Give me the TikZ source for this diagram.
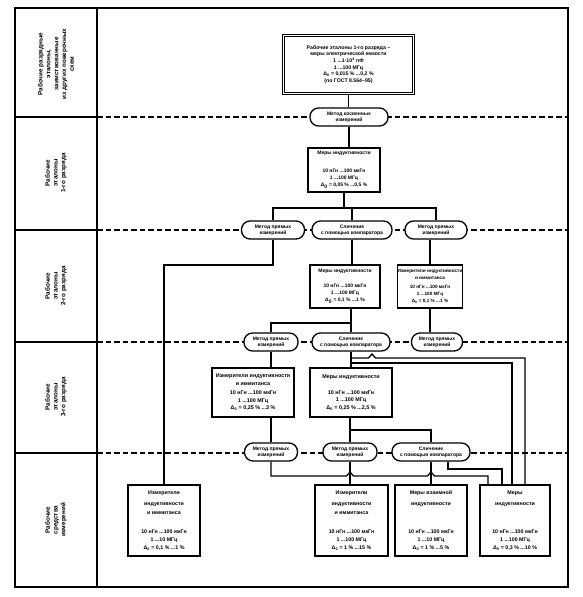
\documentclass[tikz,border=0pt]{standalone}
\usepackage{fontspec}
\setmainfont{Liberation Sans}
\usetikzlibrary{calc}
\begin{document}
\begin{tikzpicture}[x=1pt,y=-1pt,
 con/.style={line width=1.3pt},
 frame/.style={line width=1.4pt},
 dashsep/.style={line width=1.2pt, dash pattern=on 5.5pt off 3pt},
 box/.style={draw, line width=1.3pt, fill=white, align=center, inner sep=0pt, font=\fontsize{5}{7}\selectfont\bfseries},
 oval/.style={draw, line width=1.3pt, fill=white, align=center, inner sep=0pt, rounded corners=8.5pt, minimum height=18pt, font=\fontsize{5}{6.3}\selectfont\bfseries},
 lab/.style={rotate=90, align=center, font=\fontsize{6.3}{7.8}\selectfont\bfseries}
]
\useasboundingbox (0,0) rectangle (583,597);
% frame and left column
\draw[frame] (15,8) rectangle (568,587);
\draw[frame] (97,8) -- (97,587);
\foreach \yy in {117,230,342,453}{
  \draw[frame] (15,\yy) -- (97,\yy);
  \draw[dashsep] (97,\yy) -- (568,\yy);
}
\node[lab] (L1) at (56,64) {Рабочие разрядные\\эталоны,\\заимствованные\\из других поверочных\\схем};
\node[lab] (L2) at (56,173) {Рабочие\\эталоны\\1-го разряда};
\node[lab] (L3) at (56,286) {Рабочие\\эталоны\\2-го разряда};
\node[lab] (L4) at (56,397) {Рабочие\\эталоны\\3-го разряда};
\node[lab] (L5) at (56,520) {Рабочие\\средства\\измерений};

% top box
\node[box, double, double distance=1pt, line width=1.2pt, minimum width=130, minimum height=58, font=\fontsize{5.2}{6.6}\selectfont\bfseries] (T) at (348.5,64.5)
 {Рабочие эталоны 1-го разряда --\\меры электрической емкости\\1 ...1·10\textsuperscript{4} пФ\\1 ...100 МГц\\Δ\textsubscript{0} = 0,015 \% ...0,2 \%\\(по ГОСТ 8.564--95)};
\node[oval, minimum width=78] (M0) at (349,117) {Метод косвенных\\измерений};
\node[box, minimum width=72, minimum height=44] (B1) at (344,170)
 {Меры индуктивности\\[11pt]10 нГн ...100 мкГн\\1 ...100 МГц\\Δ\textsubscript{0} = 0,05 \% ...0,5 \%};

% row 2/3 ovals
\node[oval, minimum width=63] (O1) at (273,230) {Метод прямых\\измерений};
\node[oval, minimum width=80] (O2) at (352,230) {Сличение\\с помощью компаратора};
\node[oval, minimum width=62] (O3) at (436,230) {Метод прямых\\измерений};

% row 3 boxes
\node[box, minimum width=70, minimum height=43] (B2a) at (345,286.5)
 {Меры индуктивности\\[8pt]10 нГн ...100 мкГн\\1 ...100 МГц\\Δ\textsubscript{0} = 0,1 \% ...1 \%};
\node[box, minimum width=64, minimum height=43, font=\fontsize{4.7}{7}\selectfont\bfseries] (B2b) at (430,286.5)
 {Измерители индуктивности\\и иммитанса\\[2pt]10 нГн ...100 мкГн\\1 ...100 МГц\\Δ\textsubscript{0} = 0,1 \% ...1 \%};

% row 3/4 ovals
\node[oval, minimum width=54] (O4) at (271,342) {Метод прямых\\измерений};
\node[oval, minimum width=78] (O5) at (351,342) {Сличение\\с помощью компаратора};
\node[oval, minimum width=51] (O6) at (437,342) {Метод прямых\\измерений};

% row 4 boxes
\node[box, minimum width=82, minimum height=49, font=\fontsize{5.4}{7.5}\selectfont\bfseries] (B3a) at (253,392.5)
 {Измерители индуктивности\\и иммитанса\\[2pt]10 нГн ...100 мкГн\\1 ...100 МГц\\Δ\textsubscript{0} = 0,25 \% ...3 \%};
\node[box, minimum width=82, minimum height=49, font=\fontsize{5.4}{7.5}\selectfont\bfseries] (B3b) at (351,392.5)
 {Меры индуктивности\\[8pt]10 нГн ...100 мкГн\\1 ...100 МГц\\Δ\textsubscript{0} = 0,25 \% ...2,5 \%};

% row 4/5 ovals
\node[oval, minimum width=53] (O7) at (271,452) {Метод прямых\\измерений};
\node[oval, minimum width=54] (O8) at (350,452) {Метод прямых\\измерений};
\node[oval, minimum width=78] (O9) at (431,452) {Сличение\\с помощью компаратора};

% bottom boxes
\tikzset{bbox/.style={box, minimum width=72, minimum height=71, font=\fontsize{5.3}{8}\selectfont\bfseries}}
\node[bbox] (P0) at (164,520.5)
 {Измерители\\[3pt]индуктивности\\[1pt]и иммитанса\\[11pt]10 нГн ...100 мкГн\\1 ...10 МГц\\Δ\textsubscript{0} = 0,1 \% ...1 \%};
\node[bbox, minimum width=73] (P1) at (351.5,520.5)
 {Измерители\\[3pt]индуктивности\\[1pt]и иммитанса\\[11pt]10 нГн ...100 мкГн\\1 ...100 МГц\\Δ\textsubscript{0} = 1 \% ...15 \%};
\node[bbox] (P2) at (431,520.5)
 {Меры взаимной\\[3pt]индуктивности\\[20pt]10 нГн ...100 мкГн\\1 ...10 МГц\\Δ\textsubscript{0} = 1 \% ...5 \%};
\node[bbox, minimum width=70] (P3) at (515,520.5)
 {Меры\\[3pt]индуктивности\\[20pt]10 нГн ...100 мкГн\\1 ...100 МГц\\Δ\textsubscript{0} = 0,3 \% ...10 \%};

% connectors
\draw[con] (T.south) -- (T.south |- M0.north);
\draw[con] (M0.south) -- (M0.south |- B1.north);
\coordinate (bus1) at (B1.south |- 0,208);
\draw[con] (B1.south) -- (bus1);
\draw[con] (O1.north) |- (bus1) -| (O3.north);
\draw[con] (O2.north) -- (O2.north |- bus1);
\draw[con] (O1.south) |- (P0.north |- 0,265) -- (P0.north);
\draw[con] (O2.south) -- (O2.south |- B2a.north);
\draw[con] (B2b.north) -- (B2b.north |- O3.south);
\draw[con] (B2b.south) -- (B2b.south |- O6.north);
\draw[con] (B2a.south -| O5.north) -- (O5.north);
\draw[con] (O4.north) |- (O5.north |- 0,323);
\draw[con] (O4.south) -- (O4.south |- B3a.north);
\draw[con] (O5.south) -- (O5.south |- B3b.north);
\draw[con] (B3a.south -| O7.north) -- (O7.north);
\draw[con] (B3b.south -| O8.north) -- (O8.north);
\draw[con] (O8.north |- 0,430) -| (O9.north);
\draw[con] (O8.south) -- (O8.south |- P1.north);
\draw[con] (O9.south) -- (O9.south |- P2.north);
\draw[con] (O7.south) |- (346.5,476) -- ++(3.5,-4) -- ++(3.5,4) -- (427.5,476) -- ++(3.5,-4) -- ++(3.5,4) -| (P3.north -| 488,0);
\draw[con] (O9.south -| 448,0) |- (502,469) -- (P3.north -| 502,0);
\draw[con] (P3.north -| 525,0) |- (375.5,358) -- ++(-3.5,-4) -- ++(-3.5,4) -- (O5.south |- 0,358);
\draw[con] (P3.north -| 512,0) |- (O5.south |- 0,363);
\end{tikzpicture}
\end{document}
